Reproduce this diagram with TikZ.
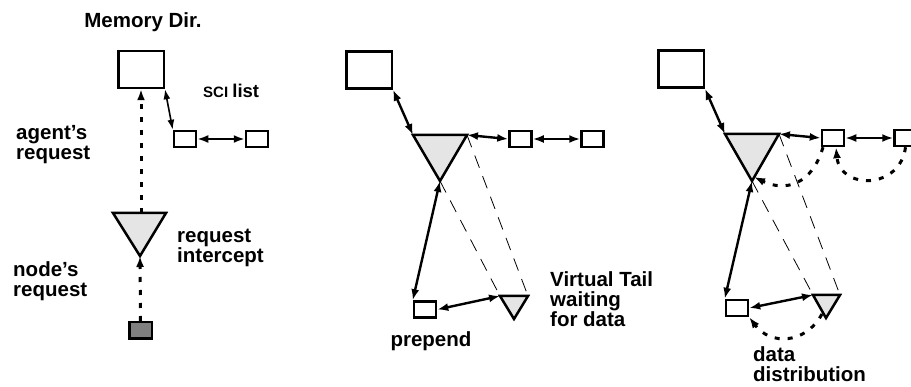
\documentclass[tikz,border=0pt]{standalone}
\usepackage{fontspec}
\setmainfont{Liberation Sans}
\usetikzlibrary{arrows.meta}

\tikzset{
  dirbox/.style={draw, line width=2.5pt, minimum width=45.5pt, minimum height=37pt, inner sep=0pt},
  cell/.style={draw, line width=2.5pt, minimum width=22pt, minimum height=16pt, inner sep=0pt},
  tri/.style={draw, fill=black!10, line width=2.5pt, line join=miter},
  lbl/.style={font=\bfseries\fontsize{20.5}{20}\selectfont, align=left, inner sep=0pt},
  link/.style={line width=2.4pt, {Latex[length=11pt,width=8pt]}-{Latex[length=11pt,width=8pt]}},
  thinlink/.style={line width=1.6pt, {Latex[length=10pt,width=7pt]}-{Latex[length=10pt,width=7pt]}},
  req/.style={line width=3pt, dash pattern=on 5pt off 8pt, -{Latex[length=11pt,width=8pt]}},
  ghost/.style={line width=0.8pt, dash pattern=on 13pt off 9pt},
}

\begin{document}
\begin{tikzpicture}[x=1pt,y=-1pt]
\useasboundingbox (0,0) rectangle (911,387);

% panel 1: plain request
\node[dirbox] (dir1) at (141,69.5) {};
\node[cell] (c1a) at (185,139) {};
\node[cell] (c1b) at (257,139) {};
\coordinate (t1l) at (113,213);
\coordinate (t1r) at (166,213);
\coordinate (t1a) at (140,256);
\filldraw[tri] (t1l) -- (t1r) -- (t1a) -- cycle;
\node[draw, fill=black!50, line width=2.5pt, minimum width=22.5pt, minimum height=16.5pt, inner sep=0pt] (n1) at (140.5,330.5) {};

\draw[thinlink] (dir1.south east) -- (c1a.north west);
\draw[link] (c1a) -- (c1b);
\draw[req] (t1l -| dir1.south) -- (dir1.south);
\draw[req] (n1.north) -- (t1a);

\node[lbl, anchor=base] (memlbl) at (143,28) {Memory Dir.};
\node[lbl, anchor=base west] (scilbl) at (203,98) {\fontsize{15}{15}\selectfont SCI \fontsize{18.5}{18.5}\selectfont list};
\node[lbl, anchor=base west] (agentlbl) at (16,159.5) {agent's\\request};
\node[lbl, anchor=base west] (icptlbl) at (177,262.5) {request\\intercept};
\node[lbl, anchor=base west] (nodelbl) at (13,296.5) {node's\\request};

% panel 2: prepend
\node[dirbox] (dir2) at (369,70) {};
\node[cell] (c2a) at (520.5,139) {};
\node[cell] (c2b) at (592.5,139) {};
\node[cell] (p2) at (425,309.5) {};
\coordinate (t2l) at (413,135);
\coordinate (t2r) at (467,135);
\coordinate (t2a) at (440,181);
\coordinate (s2l) at (500,296);
\coordinate (s2r) at (528,296);
\coordinate (s2a) at (514,319);
\draw[ghost] (t2r) -- (s2r);
\draw[ghost] (t2a) -- (s2l);
\filldraw[tri] (t2l) -- (t2r) -- (t2a) -- cycle;
\filldraw[tri] (s2l) -- (s2r) -- (s2a) -- cycle;

\draw[link] (dir2.south east) -- (t2l);
\draw[link] (t2r) -- (c2a.west);
\draw[link] (c2a) -- (c2b);
\draw[link] (t2a) -- (p2.north west);
\draw[link] (p2.east) -- (s2l);

\node[lbl, anchor=base] (prelbl) at (431,346.5) {prepend};
\node[lbl, anchor=base west] (taillbl) at (550,327) {Virtual Tail\\waiting\\for data};

% panel 3: data distribution
\node[dirbox] (dir3) at (681,69) {};
\node[cell] (c3a) at (833,138) {};
\node[cell] (c3b) at (905.5,138) {};
\node[cell] (p3) at (737,308) {};
\coordinate (t3l) at (725,134);
\coordinate (t3r) at (779,134);
\coordinate (t3a) at (752,181);
\coordinate (s3l) at (813,295);
\coordinate (s3r) at (840,295);
\coordinate (s3a) at (826,318);
\draw[ghost] (t3r) -- (s3r);
\draw[ghost] (t3a) -- (s3l);
\filldraw[tri] (t3l) -- (t3r) -- (t3a) -- cycle;
\filldraw[tri] (s3l) -- (s3r) -- (s3a) -- cycle;

\draw[link] (dir3.south east) -- (t3l);
\draw[link] (t3r) -- (c3a.west);
\draw[link] (c3a) -- (c3b);
\draw[link] (t3a) -- (p3.north west);
\draw[link] (p3.east) -- (s3l);

\draw[req] ([xshift=-10pt]c3a.south) .. controls (812,185) and (785,192) .. ([xshift=2pt,yshift=4pt]t3a);
\draw[req] (c3b.south) .. controls (900,190) and (840,190) .. ([xshift=3pt]c3a.south);
\draw[req] ([xshift=-4pt,yshift=4pt]s3a) .. controls (805,345) and (770,345) .. (p3.south east);

\node[lbl, anchor=base west] (distlbl) at (753,381.5) {data\\distribution};
\end{tikzpicture}
\end{document}
